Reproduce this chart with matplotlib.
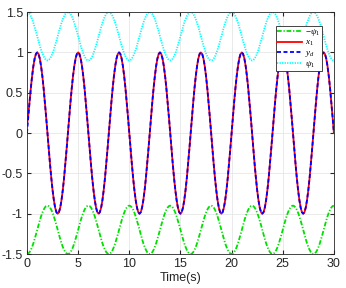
import numpy as np
import matplotlib
matplotlib.use("Agg")
import matplotlib.pyplot as plt

plt.rcParams['font.family'] = ['Liberation Sans', 'DejaVu Sans']
plt.rcParams['mathtext.fontset'] = 'custom'
plt.rcParams['mathtext.rm'] = 'Liberation Serif'
plt.rcParams['mathtext.it'] = 'Liberation Serif:italic'

# sampling step (s) and one period (4 s) of each signal
dt = 0.125
t_end = 30.0
yd_period = [0.0, 0.195, 0.383, 0.556, 0.707, 0.831, 0.924, 0.981,
             1.0, 0.981, 0.924, 0.831, 0.707, 0.556, 0.383, 0.195,
             0.0, -0.195, -0.383, -0.556, -0.707, -0.831, -0.924, -0.981,
             -1.0, -0.981, -0.924, -0.831, -0.707, -0.556, -0.383, -0.195]
psi_period = [1.5, 1.494, 1.477, 1.449, 1.412, 1.367, 1.315, 1.259,
              1.2, 1.141, 1.085, 1.033, 0.988, 0.951, 0.923, 0.906,
              0.9, 0.906, 0.923, 0.951, 0.988, 1.033, 1.085, 1.141,
              1.2, 1.259, 1.315, 1.367, 1.412, 1.449, 1.477, 1.494]
x_start = [0.10, 0.22, 0.39]   # initial transient of x1

labels = ['$-\\psi_1$', '$x_1$', '$y_d$', '$\\psi_1$']
xticks = [0, 5, 10, 15, 20, 25, 30]
yticks = [-1.5, -1, -0.5, 0, 0.5, 1, 1.5]
ytick_labels = ['-1.5', '-1', '-0.5', '0', '0.5', '1', '1.5']

n = int(round(t_end / dt)) + 1
t = np.arange(n) * dt
reps = n // len(yd_period) + 1
yd = np.tile(yd_period, reps)[:n]
psi = np.tile(psi_period, reps)[:n]
x1 = yd.copy()
x1[:len(x_start)] = x_start

fig = plt.figure(figsize=(3.46, 2.88), dpi=100)
ax = fig.add_axes([0.078, 0.118, 0.887, 0.840])

lw = 1.3
ax.plot(t, -psi, color='#00e000', lw=lw, dashes=(2.6, 1.0, 0.7, 1.0), label=labels[0])
ax.plot(t, x1, color='red', ls='-', lw=lw, label=labels[1])
ax.plot(t, yd, color='blue', lw=lw, dashes=(2.2, 1.4), label=labels[2])
ax.plot(t, psi, color='cyan', lw=lw, dashes=(0.7, 0.7), label=labels[3])

ax.set_xlim(0, 30)
ax.set_ylim(-1.5, 1.5)
ax.set_xticks(xticks)
ax.set_yticks(yticks)
ax.set_yticklabels(ytick_labels)
ax.tick_params(direction='in', length=3, labelsize=9, colors='#262626', top=True, right=True,
               labeltop=False, labelright=False, pad=3)
ax.grid(True, color='#e6e6e6', lw=0.6)
ax.set_axisbelow(True)
for s in ax.spines.values():
    s.set_color('#262626')
    s.set_linewidth(0.6)
ax.set_xlabel('Time(s)', fontsize=9, labelpad=1, color='#262626')

leg = ax.legend(loc='upper right', fontsize=6.5, handlelength=2.8, handletextpad=0.3,
                borderpad=0.15, labelspacing=0.0, fancybox=False, framealpha=1,
                edgecolor='#262626', bbox_to_anchor=(0.975, 0.963))
leg.get_frame().set_linewidth(0.6)

fig.savefig('out.png', dpi=100)
